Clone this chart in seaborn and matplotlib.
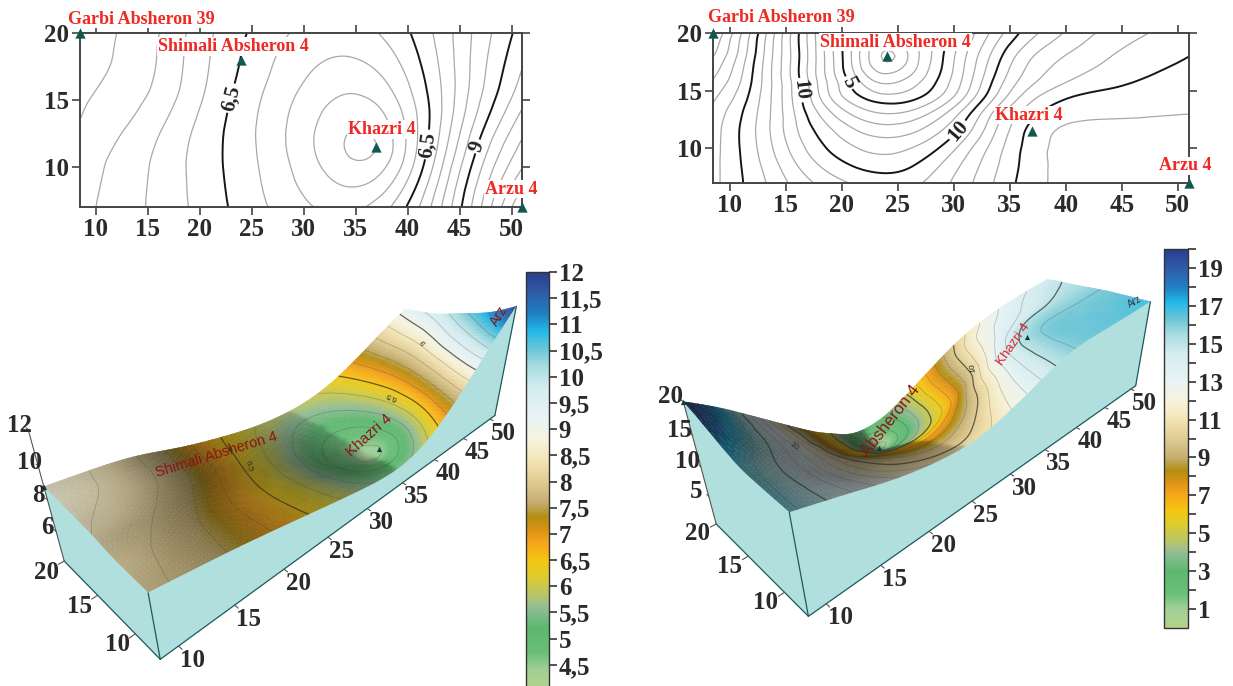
# contour maps and 3d blocks for the two Absheron fields
import numpy as np
import matplotlib
matplotlib.use("Agg")
import matplotlib.pyplot as plt
import matplotlib.tri as mtri
import seaborn as sns
from matplotlib.cm import ScalarMappable
from matplotlib.colors import LinearSegmentedColormap, Normalize
from mpl_toolkits.mplot3d import proj3d
from mpl_toolkits.mplot3d.art3d import Poly3DCollection

# ------------- data -----------------------------------
grid_x = [8.5, 11, 13.5, 16, 18.5, 21, 23.5, 26, 28.5, 31, 33.5, 36, 38.5, 41, 43.5, 46, 48.5, 51]
grid_y = [7, 8.5, 10, 11.5, 13, 14.5, 16, 18, 20]

# left field, one row per grid_y
left_y07 = [8.15, 7.9, 7.65, 7.38, 7.06, 6.73, 6.41, 6.09, 5.81, 5.54, 5.36, 5.45, 6.0, 6.95, 8.1, 9.45, 10.75, 12.0]
left_y08 = [8.2, 7.98, 7.69, 7.38, 7.04, 6.7, 6.36, 6.0, 5.64, 5.35, 5.1, 5.0, 5.55, 6.65, 7.95, 9.35, 10.55, 11.3]
left_y10 = [8.15, 8.0, 7.68, 7.41, 7.0, 6.67, 6.32, 5.98, 5.62, 5.2, 4.8, 4.5, 5.1, 6.15, 7.67, 9.0, 10.2, 10.8]
left_y11 = [8.2, 8.06, 7.78, 7.44, 7.0, 6.67, 6.31, 5.92, 5.45, 5.03, 4.6, 4.25, 4.78, 6.05, 7.28, 8.75, 9.95, 10.5]
left_y13 = [8.55, 8.25, 7.95, 7.6, 7.1, 6.7, 6.3, 5.9, 5.5, 5.12, 4.7, 4.45, 5.1, 6.1, 7.15, 8.5, 9.55, 10.3]
left_y14 = [8.5, 8.3, 8.15, 7.8, 7.3, 6.8, 6.38, 5.97, 5.58, 5.22, 4.93, 4.8, 5.25, 6.1, 7.05, 8.2, 9.15, 9.85]
left_y16 = [8.6, 8.4, 8.25, 8.0, 7.45, 6.9, 6.45, 6.05, 5.68, 5.35, 5.03, 5.03, 5.45, 6.25, 7.05, 8.05, 8.95, 9.6]
left_y18 = [8.72, 8.58, 8.38, 8.05, 7.45, 6.95, 6.57, 6.2, 5.85, 5.62, 5.47, 5.6, 5.92, 6.5, 7.2, 8.1, 8.8, 9.4]
left_y20 = [8.8, 8.55, 8.33, 8.11, 7.5, 7.0, 6.67, 6.32, 6.0, 5.85, 5.8, 5.85, 6.12, 6.64, 7.26, 8.0, 8.64, 9.2]

# right field
right_y07 = [16.3, 15.1, 13.9, 12.6, 11.65, 10.95, 10.52, 10.65, 11.45, 12.6, 13.95, 15.25, 16.1, 16.25, 16.35, 16.45, 16.6, 16.8]
right_y08 = [16.3, 15.05, 13.65, 12.0, 10.75, 9.95, 9.55, 9.8, 10.95, 12.3, 13.7, 15.1, 16.1, 16.25, 16.35, 16.45, 16.55, 16.65]
right_y10 = [16.35, 15.0, 13.3, 11.4, 10.0, 9.15, 8.65, 9.0, 9.85, 11.65, 13.4, 15.0, 16.1, 16.2, 16.25, 16.3, 16.35, 16.45]
right_y11 = [16.4, 14.95, 13.1, 10.95, 9.55, 8.25, 7.55, 7.75, 8.75, 10.3, 12.7, 14.8, 16.05, 16.12, 16.15, 16.18, 16.22, 16.28]
right_y13 = [16.5, 15.1, 13.2, 10.85, 8.6, 6.9, 6.05, 6.35, 7.65, 9.7, 12.5, 14.25, 15.4, 15.8, 15.87, 15.92, 15.97, 16.0]
right_y14 = [17.2, 15.7, 13.2, 10.6, 7.1, 5.25, 4.2, 4.4, 5.5, 7.6, 10.6, 13.1, 14.4, 15.1, 15.35, 15.5, 15.6, 15.65]
right_y16 = [17.8, 16.2, 13.2, 10.4, 7.1, 4.85, 2.6, 3.6, 5.1, 7.2, 10.1, 12.1, 13.2, 14.0, 14.4, 14.85, 15.2, 15.35]
right_y18 = [19.0, 16.8, 13.2, 10.4, 6.9, 4.0, 0.7, 1.75, 4.5, 7.0, 9.3, 11.65, 12.7, 13.3, 13.9, 14.4, 14.75, 15.0]
right_y20 = [20.0, 17.2, 13.7, 10.3, 6.9, 4.4, 3.0, 3.2, 4.6, 6.3, 8.2, 10.1, 11.4, 12.5, 13.2, 13.7, 14.2, 14.5]

well_names = ["Garbi Absheron 39", "Shimali Absheron 4", "Khazri 4", "Arzu 4"]
well_x = [8.5, 24, 37, 51]
well_y = [20, 18, 11.5, 7]
well_z_left = [8.8, 6.6, 4.3, 12.0]
well_z_right = [20.0, 0.5, 16.0, 16.8]

x_ticks = [10, 15, 20, 25, 30, 35, 40, 45, 50]
y_ticks = [10, 15, 20]
left_z_ticks = [6, 8, 10, 12]
right_z_ticks = [5, 10, 15, 20]
left_bar_ticks = [4.5, 5, 5.5, 6, 6.5, 7, 7.5, 8, 8.5, 9, 9.5, 10, 10.5, 11, 11.5, 12]
left_bar_labels = ["4,5", "5", "5,5", "6", "6,5", "7", "7,5", "8", "8,5", "9", "9,5", "10", "10,5", "11", "11,5", "12"]
right_bar_ticks = list(range(1, 21))
right_bar_labels = [str(i) if i % 2 else "" for i in range(1, 21)]

# colour ramp as position on the bar (0-1) and colour
ramp_pos = [0, .05, .09, .15, .20, .225, .275, .31, .35, .385, .415, .45, .50, .55, .60, .65, .725, .775, .815, .86, .90, .95, 1]
ramp_col = ["#b5d38a", "#a0cf98", "#6abf78", "#5cb870", "#93bd95", "#b5c46c", "#dfcc2c", "#f3c712", "#f7a81a", "#dc9214",
            "#b38e12", "#c4ae70", "#e0cc92", "#f3e4b4", "#f6f3dc", "#e9f3f3", "#d4ecf0", "#a8dde0", "#6ec6d6", "#22b8e8",
            "#1f80c4", "#2e5ca8", "#2b3d8c"]

# ------------- figure set up --------------
W, H = 1233, 686
sns.set_theme(style="white")
plt.rcParams['font.family'] = ['Liberation Serif', 'DejaVu Serif']
plt.rcParams['font.weight'] = 'bold'
TICK_COL = "#2a2a2a"
WALL_COL = "#b0dfde"
EDGE_COL = "#1e5a5c"
LABEL_RED = "#ee2a24"
MARK_COL = "#0f5a50"

cmap = LinearSegmentedColormap.from_list("field", list(zip(ramp_pos, ramp_col)), N=512)
fig = plt.figure(figsize=(W/100, H/100), dpi=100, facecolor="white")


def px_rect(left, top, right, bottom):
    return [left/W, 1-bottom/H, (right-left)/W, (bottom-top)/H]


def refined(rows, lam):
    # takes the jitter of reading by eye out of the grid, wells held firmer, then library cubic refine
    z = np.array(rows, float)
    ny, nx = z.shape
    dx = np.diff(np.eye(nx), 2, axis=0)
    dy = np.diff(np.eye(ny), 2, axis=0)
    penalty = np.kron(np.eye(ny), dx.T @ dx) + np.kron(dy.T @ dy, np.eye(nx))
    w = np.ones(z.size)
    for x, y in zip(well_x, well_y):
        w[np.abs(np.array(grid_y)-y).argmin()*nx + np.abs(np.array(grid_x)-x).argmin()] = 6
    smooth = np.linalg.solve(np.diag(w)+lam*penalty, w*z.ravel())
    gx, gy = np.meshgrid(grid_x, grid_y)
    tri = mtri.Triangulation(gx.ravel(), gy.ravel())
    return mtri.UniformTriRefiner(tri).refine_field(smooth, subdiv=3)


# ------- flat contour map on top -------
def contour_map(rect, rows, lam, grey_levels, major_levels, fmt, manual, offsets):
    ax = fig.add_axes(px_rect(*rect), zorder=5)
    tri_f, z_f = refined(rows, lam)
    ax.tricontour(tri_f, z_f, levels=grey_levels, colors="#a8a8a8", linewidths=0.9)
    cs = ax.tricontour(tri_f, z_f, levels=major_levels, colors="#15151f", linewidths=1.4)
    labels = ax.clabel(cs, fmt=fmt, manual=manual, inline=True, inline_spacing=2, fontsize=15)
    for t in labels:
        t.set_color("#222222")
    sns.scatterplot(x=well_x, y=well_y, marker="^", color=MARK_COL, s=55, linewidth=0, ax=ax, clip_on=False, zorder=6)
    for name, x, y, off in zip(well_names, well_x, well_y, offsets):
        ax.annotate(name, (x, y), xytext=(off[0]*.72, off[1]*.72), textcoords="offset points", ha="center", va="center",
                    color=LABEL_RED, fontsize=13, annotation_clip=False, zorder=7,
                    bbox=dict(fc="white", ec="none", pad=0.6))
    ax.set_xlim(8.5, 51)
    ax.set_ylim(7, 20)
    ax.set_xticks(x_ticks)
    ax.set_yticks([10, 15, 20])
    ax.tick_params(axis="both", which="major", direction="out", length=6, width=1.2, color="#444444", labelsize=18,
                   labelcolor=TICK_COL, top=True, right=True, bottom=True, left=True, pad=2)
    ax.set_xlabel("")
    ax.set_ylabel("")
    for s in ax.spines.values():
        s.set_color("#444444")
        s.set_linewidth(1.4)
        s.set_visible(True)
    return ax


# ------- surface block below -------
def pin(ax, M, x, y, z, text, dx, dy, **kw):
    u, v, _ = proj3d.proj_transform(x, y, z, M)
    return ax.annotate(text, (u, v), xytext=(dx*.72, dy*.72), textcoords="offset points", ha="center", va="center",
                       annotation_clip=False, **kw)


def block(rows, lam, zlim, z_ticks, view, fit, grey_levels, major_levels, well_z, tick_off):
    el, az, f, rx, rz, roll = view
    S, X, Y = fit
    ax = fig.add_axes([X/W, Y/H, S/W, S/H], projection="3d", computed_zorder=False)
    ax.set_axis_off()
    ax.patch.set_alpha(0)
    zb = zlim[0]
    tri_f, z_f = refined(rows, lam)
    norm = Normalize(*zlim)

    # triangles with a simple light from the low x side, slopes facing it stay full colour
    xyz = np.c_[tri_f.x, tri_f.y, z_f][tri_f.triangles]
    mean_z = xyz[:, :, 2].mean(axis=1)
    cols = cmap(norm(mean_z))
    sc = np.array([rx/42.5, 1/13, 4.0*rz/(zlim[1]-zlim[0])])
    p = xyz*sc
    n = np.cross(p[:, 1]-p[:, 0], p[:, 2]-p[:, 0])
    n = n/np.linalg.norm(n, axis=1, keepdims=True)
    n = n*np.sign(n[:, 2:3])
    light = np.array([-.5, 0, .866])
    shade = np.clip(0.42+0.66*(n @ light), 0.42, 1)
    shade[n[:, 0] < 0] = 1
    # average over the corners so the facets do not show
    total = np.zeros(len(z_f))
    count = np.zeros(len(z_f))
    for k in range(3):
        np.add.at(total, tri_f.triangles[:, k], shade)
        np.add.at(count, tri_f.triangles[:, k], 1)
    shade = (total/count)[tri_f.triangles].mean(axis=1)
    cols[:, :3] = cols[:, :3]*shade[:, None]
    surf = Poly3DCollection(xyz, facecolors=cols, edgecolors=cols, linewidths=0.25, zorder=1)
    surf.set_clip_on(False)
    ax.add_collection3d(surf)

    # contour lines on the surface
    ax.tricontour(tri_f, z_f, levels=grey_levels, colors="#3a3a3a", linewidths=0.6, alpha=0.28, zorder=2)
    ax.tricontour(tri_f, z_f, levels=major_levels, colors="#2a2a2a", linewidths=0.9, alpha=0.7, zorder=2)

    # the two visible side walls follow the edge of the surface
    front = np.isclose(tri_f.y, grid_y[0])
    side = np.isclose(tri_f.x, grid_x[0])
    fi = np.argsort(tri_f.x[front])
    si = np.argsort(tri_f.y[side])
    wall_a = list(zip(tri_f.x[front][fi], tri_f.y[front][fi], z_f[front][fi])) + [(grid_x[-1], grid_y[0], zb), (grid_x[0], grid_y[0], zb)]
    wall_b = list(zip(tri_f.x[side][si], tri_f.y[side][si], z_f[side][si])) + [(grid_x[0], grid_y[-1], zb), (grid_x[0], grid_y[0], zb)]
    walls = Poly3DCollection([wall_a, wall_b], facecolors=WALL_COL, edgecolors=WALL_COL, linewidths=0.3, zorder=3)
    walls.set_clip_on(False)
    ax.add_collection3d(walls)

    # frame edges
    z_front = z_f[front][fi]
    edge_kw = dict(color=EDGE_COL, lw=0.9, zorder=4, clip_on=False)
    ax.plot([grid_x[0], grid_x[-1]], [grid_y[0], grid_y[0]], [zb, zb], **edge_kw)
    ax.plot([grid_x[0], grid_x[0]], [grid_y[0], grid_y[-1]], [zb, zb], **edge_kw)
    ax.plot([grid_x[0], grid_x[0]], [grid_y[0], grid_y[0]], [zb, z_front[0]], **edge_kw)
    ax.plot([grid_x[-1], grid_x[-1]], [grid_y[0], grid_y[0]], [zb, z_front[-1]], **edge_kw)
    ax.plot([grid_x[0], grid_x[0]], [grid_y[-1], grid_y[-1]], [zb, zlim[1]], color="#555555", lw=0.8, zorder=4, clip_on=False)

    ax.set_xlim(8.5, 51)
    ax.set_ylim(7, 20)
    ax.set_zlim(*zlim)
    ax.set_box_aspect((rx, 1, rz))
    ax.view_init(elev=el, azim=az, roll=roll)
    ax.set_proj_type("persp", focal_length=f)
    M = ax.get_proj()

    # axis ticks by hand since the box axes are off
    tick_kw = dict(color="#555555", lw=0.8, zorder=4, clip_on=False)
    lab_kw = dict(fontsize=18, color=TICK_COL, zorder=6)
    for t in x_ticks:
        ax.plot([t, t], [7, 6.6], [zb, zb], **tick_kw)
        pin(ax, M, t, 7, zb, str(t), *tick_off[0], **lab_kw)
    for t in y_ticks:
        ax.plot([8.5, 8.0], [t, t], [zb, zb], **tick_kw)
        pin(ax, M, 8.5, t, zb, str(t), *tick_off[1], **lab_kw)
    for t in z_ticks:
        ax.plot([8.5, 8.5], [20, 20.3], [t, t], **tick_kw)
        pin(ax, M, 8.5, 20, t, str(t), *tick_off[2], **lab_kw)

    # arzu sits right on the corner and its marker does not show in the blocks
    ax.scatter(well_x[:3], well_y[:3], well_z[:3], marker="^", color="#0c3f38", s=14, linewidths=0, depthshade=False, zorder=5, clip_on=False)
    return ax, M


# ---- top maps ----
left_rows = [left_y07, left_y08, left_y10, left_y11, left_y13, left_y14, left_y16, left_y18, left_y20]
right_rows = [right_y07, right_y08, right_y10, right_y11, right_y13, right_y14, right_y16, right_y18, right_y20]
LEFT_LAM = 0.5
RIGHT_LAM = 0.15

contour_map((80, 33, 522, 207), left_rows, LEFT_LAM,
            [4.5, 5, 5.5, 6, 7, 7.5, 8, 8.5, 9.5, 10, 10.5, 11, 11.5], [6.5, 9], {6.5: "6,5", 9: "9"},
            [(22.65, 15.2), (41.6, 11.7), (46.4, 11.6)],
            [(61, 14), (-8, 13), (5, 17), (-11, 18)])
contour_map((713, 33, 1189, 183), right_rows, RIGHT_LAM,
            [1, 2, 3, 4, 6, 7, 8, 9, 11, 12, 13, 14, 16, 17, 18, 19], [5, 10, 15], {5: "5", 10: "10", 15: "15"},
            [(21.1, 15.9), (16.5, 15.05), (30.2, 11.7)],
            [(68, 15), (9, 14), (-3, 16), (-4, 17)])

# ---- left block ----
ax, M = block(left_rows, LEFT_LAM, (4, 12), left_z_ticks, (33.5095, -136.4392, 0.2365, 3.3118, 0.9709, -0.8535), (514.92, 48.46, 0.65),
              [4.5, 5, 5.5, 6, 7, 7.5, 8, 8.5, 9.5, 10, 10.5, 11, 11.5], [6.5, 9], well_z_left,
              [(14, -14), (-18, -11), (-9, 4)])
dark_red = "#8a1512"
sans = ['Liberation Sans', 'DejaVu Sans']
pin(ax, M, 24, 18, 6.6, "Shimali Absheron 4", -14, -7, color=dark_red, fontsize=10.5, rotation=17, family=sans, weight="normal", zorder=7)
pin(ax, M, 37, 11.5, 4.3, "Khazri 4", -10, 14, color=dark_red, fontsize=11, rotation=42, family=sans, weight="normal", zorder=7)
pin(ax, M, 51, 7, 12, "Arz", -17, -10, color=dark_red, fontsize=10, rotation=58, family=sans, weight="normal", zorder=7)
for x, y, z, s, r in [(23.5, 15, 6.5, "6.5", -75), (41, 13.5, 6.5, "6.5", 155), (46.5, 14, 9, "9", 120)]:
    pin(ax, M, x, y, z, s, 0, 0, color="#333333", fontsize=6, rotation=r, family=sans, weight="normal", zorder=7)

# ---- right block ----
ax, M = block(right_rows, RIGHT_LAM, (0, 20), right_z_ticks, (32.3352, -135.6287, 0.2416, 3.2937, 0.9167, -0.0728), (495.62, 702.3, 39.48),
              [1, 2, 3, 4, 6, 7, 8, 9, 11, 12, 13, 14, 16, 17, 18, 19], [5, 10, 15], well_z_right,
              [(14, -14), (-19, -10), (-13, 5)])
pin(ax, M, 24, 18, 0.5, "Absheron 4", 11, 28, color=dark_red, fontsize=12, rotation=52, family=sans, weight="normal", zorder=7)
pin(ax, M, 37, 11.5, 16, "Khazri 4", -14, -7, color="#d8282a", fontsize=9.5, rotation=55, family=sans, weight="normal", zorder=7)
pin(ax, M, 51, 7, 16.8, "Arz", -16, 0, color="#3a3a4a", fontsize=7, rotation=30, family=sans, weight="normal", zorder=7)
for x, y, z, s, r in [(13, 13.5, 15, "10", -35), (34, 15.5, 10, "10", 100)]:
    pin(ax, M, x, y, z, s, 0, 0, color="#333333", fontsize=6, rotation=r, family=sans, weight="normal", zorder=7)

# ---- colour bars ----
def colour_bar(rect, zlim, ticks, labels):
    cax = fig.add_axes(px_rect(*rect), zorder=6)
    cb = fig.colorbar(ScalarMappable(norm=Normalize(*zlim), cmap=cmap), cax=cax, ticks=ticks)
    cb.set_ticklabels(labels)
    cb.ax.tick_params(length=6, width=1.2, color="#333333", labelsize=18, labelcolor=TICK_COL, pad=1, direction="out")
    cb.outline.set_edgecolor("#333333")
    cb.outline.set_linewidth(1.0)


colour_bar((526, 272, 549, 691), (4, 12), left_bar_ticks, left_bar_labels)
colour_bar((1164, 249, 1188, 628), (0, 20), right_bar_ticks, right_bar_labels)

fig.savefig("out.png", dpi=100)
